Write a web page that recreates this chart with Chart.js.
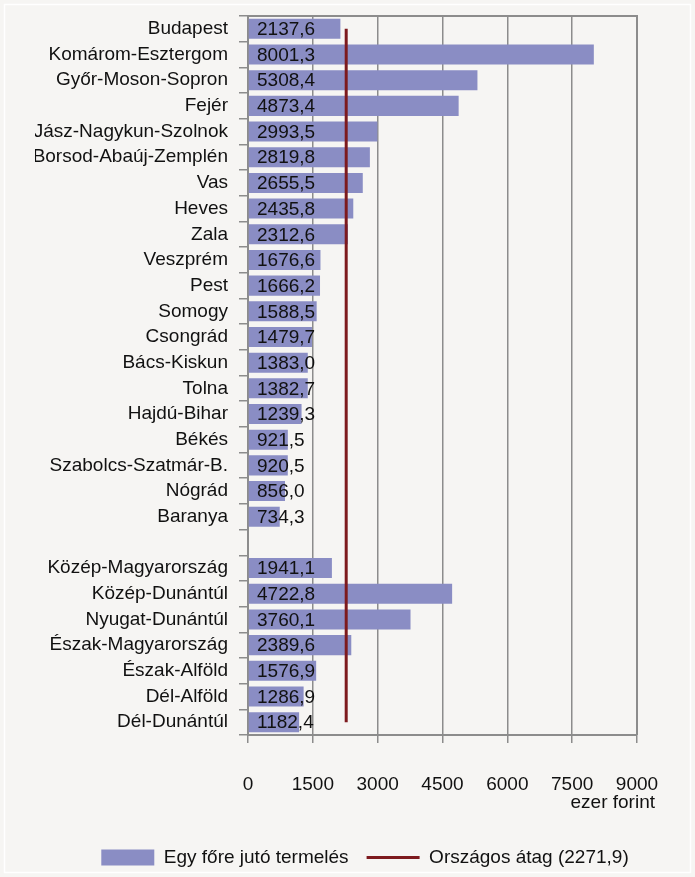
<!DOCTYPE html>
<html>
<head>
<meta charset="utf-8">
<script src="https://cdn.jsdelivr.net/npm/chart.js@4"></script>
<style>
  html, body { margin: 0; padding: 0; background: #f6f5f3; }
  #wrap { width: 695px; height: 877px; position: relative; }
</style>
</head>
<body>
<div id="wrap"><canvas id="chart" width="695" height="877"></canvas></div>
<script>
// counties, then an empty slot, then regions
const areas = ['Budapest', 'Komárom-Esztergom', 'Győr-Moson-Sopron', 'Fejér', 'Jász-Nagykun-Szolnok',
    'Borsod-Abaúj-Zemplén', 'Vas', 'Heves', 'Zala', 'Veszprém', 'Pest', 'Somogy', 'Csongrád',
    'Bács-Kiskun', 'Tolna', 'Hajdú-Bihar', 'Békés', 'Szabolcs-Szatmár-B.', 'Nógrád', 'Baranya',
    '',
    'Közép-Magyarország', 'Közép-Dunántúl', 'Nyugat-Dunántúl', 'Észak-Magyarország',
    'Észak-Alföld', 'Dél-Alföld', 'Dél-Dunántúl'];
const perCapita = [2137.6, 8001.3, 5308.4, 4873.4, 2993.5, 2819.8, 2655.5, 2435.8, 2312.6, 1676.6,
    1666.2, 1588.5, 1479.7, 1383.0, 1382.7, 1239.3, 921.5, 920.5, 856.0, 734.3,
    null,
    1941.1, 4722.8, 3760.1, 2389.6, 1576.9, 1286.9, 1182.4];
const nationalAvg = 2271.9;
const xTicks = [0, 1500, 3000, 4500, 6000, 7500, 9000];
const barLabel = 'Egy főre jutó termelés';
const avgLabel = 'Országos átag (2271,9)';
const xTitle = 'ezer forint';

const FONT = "'Liberation Sans', Arial, sans-serif";
const barColor = '#8a8dc4';
const avgColor = '#7d1a1e';
const gridColor = '#8c8c8c';

const fmt = v => v.toFixed(1).replace('.', ',');

// background + thin white frame + plot border
const framePlugin = {
    id: 'frame',
    beforeDraw(chart) {
        const c = chart.ctx;
        c.save();
        c.fillStyle = '#f6f5f3';
        c.fillRect(0, 0, chart.width, chart.height);
        c.strokeStyle = '#ffffff';
        c.lineWidth = 1.5;
        c.strokeRect(4.5, 4.5, chart.width - 9, chart.height - 9);
        c.restore();
    },
    afterDraw(chart) {
        const a = chart.chartArea;
        const c = chart.ctx;
        c.save();
        c.strokeStyle = gridColor;
        c.lineWidth = 2;
        c.beginPath();
        c.moveTo(a.left, a.top);
        c.lineTo(a.right, a.top);
        c.lineTo(a.right, a.bottom);
        c.stroke();
        // axis title under the last tick
        const xs = chart.scales.x;
        c.fillStyle = '#111';
        c.font = '19px ' + FONT;
        c.textAlign = 'right';
        c.textBaseline = 'middle';
        c.fillText(xTitle, xs.right + 18, xs.top + 68);
        c.restore();
    }
};

// value labels at the base of each bar
const valuePlugin = {
    id: 'values',
    afterDatasetsDraw(chart) {
        const meta = chart.getDatasetMeta(0);
        const c = chart.ctx;
        const x0 = chart.scales.x.getPixelForValue(0);
        c.save();
        c.fillStyle = '#111';
        c.font = '19px ' + FONT;
        c.textAlign = 'left';
        c.textBaseline = 'middle';
        meta.data.forEach((bar, i) => {
            const v = perCapita[i];
            if (v === null) return;
            c.fillText(fmt(v), x0 + 9, bar.y + 1);
        });
        c.restore();
    }
};

new Chart(document.getElementById('chart'), {
    type: 'bar',
    data: {
        labels: areas,
        datasets: [{
            label: barLabel,
            data: perCapita,
            backgroundColor: barColor,
            barPercentage: 0.78,
            categoryPercentage: 1,
            order: 1
        }, {
            type: 'line',
            label: avgLabel,
            indexAxis: 'y',
            data: areas.map(() => nationalAvg),
            borderColor: avgColor,
            borderWidth: 3,
            pointRadius: 0,
            spanGaps: true,
            order: 0
        }]
    },
    options: {
        indexAxis: 'y',
        responsive: false,
        animation: false,
        layout: { padding: { top: 16, left: 35, right: 0, bottom: 0 } },
        scales: {
            x: {
                min: 0,
                max: 9000,
                afterBuildTicks: s => { s.ticks = xTicks.map(v => ({ value: v })); },
                afterFit: s => { s.height = 95; s.paddingLeft = 0; s.paddingRight = 0; },
                ticks: { color: '#111', font: { family: FONT, size: 19 }, padding: 30, callback: v => String(v) },
                grid: { color: gridColor, lineWidth: 1.5, tickLength: 8, tickColor: gridColor },
                border: { color: gridColor, width: 2 }
            },
            y: {
                afterFit: s => { s.width = 213; s.paddingTop = 0; s.paddingBottom = 0; },
                ticks: { color: '#111', font: { family: FONT, size: 19 }, padding: 11, autoSkip: false },
                grid: { offset: true, drawOnChartArea: false, tickLength: 9, tickColor: gridColor, lineWidth: 1.5 },
                border: { color: gridColor, width: 2 }
            },
            y2: {
                type: 'category',
                position: 'right',
                labels: areas,
                afterFit: s => { s.width = 58; s.paddingTop = 0; s.paddingBottom = 0; },
                ticks: { display: false },
                grid: { display: false },
                border: { display: false }
            }
        },
        plugins: {
            tooltip: { enabled: false },
            legend: {
                position: 'bottom',
                labels: {
                    usePointStyle: true,
                    pointStyleWidth: 53,
                    boxWidth: 53,
                    boxHeight: 16,
                    padding: 18,
                    color: '#111',
                    font: { family: FONT, size: 19 },
                    generateLabels: chart => chart.data.datasets.map((ds, i) => ({
                        text: ds.label,
                        datasetIndex: i,
                        fillStyle: ds.type === 'line' ? ds.borderColor : ds.backgroundColor,
                        strokeStyle: ds.type === 'line' ? ds.borderColor : 'rgba(0,0,0,0)',
                        lineWidth: ds.type === 'line' ? 3 : 0,
                        pointStyle: ds.type === 'line' ? 'line' : 'rect',
                        fontColor: '#111',
                        hidden: false
                    }))
                }
            }
        }
    },
    plugins: [framePlugin, valuePlugin]
});
</script>
</body>
</html>
